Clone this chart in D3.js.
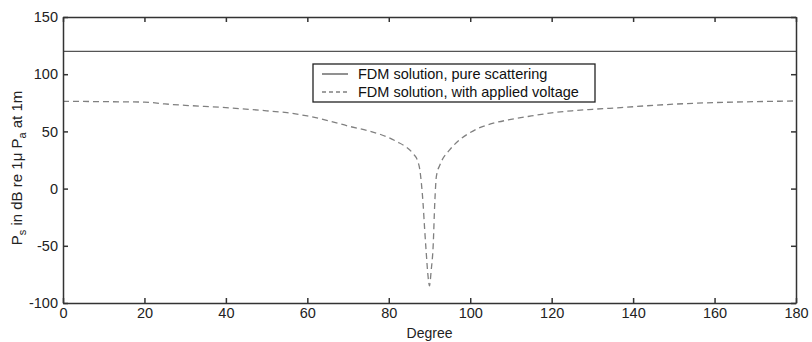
<!DOCTYPE html>
<html><head><meta charset="utf-8">
<script src="https://cdn.jsdelivr.net/npm/d3@7"></script>
<style>
body{margin:0;background:#fff;}
text{font-family:"Liberation Sans",Arial,sans-serif;}
</style></head>
<body><svg id="c" width="812" height="342"></svg>
<script>
const xTicks=[0,20,40,60,80,100,120,140,160,180];
const yTicks=[-100,-50,0,50,100,150];
const pureDeg=[0,180];
const pureVal=[120,120];
const voltDeg=[0,10,20,25,30,40,50,55,60,65,70,75,78,80,82,84,86,87,87.6,88,88.4,88.8,89.2,89.6,90,90.4,90.9,91.3,91.7,92.6,95,97.5,100,102.5,105,110,115,120,125,130,137,145,150,160,170,180];
const voltVal=[76.3,76,75.6,74,72.8,70.8,68,66.4,63.5,59.5,54.7,50.5,47.3,44.5,41,37,30.5,25,17,5,-12,-35,-56,-75,-85,-72,-50,-12,11,21,34,43,49,53.5,56.5,60.5,63.5,66.2,68,69.3,70.8,72.8,73.8,75.2,76,76.6];
const legendLabels=["FDM solution, pure scattering","FDM solution, with applied voltage"];

const svg=d3.select("#c");
const L=63,R=796,T=17,B=303;
const x=d3.scaleLinear().domain([0,180]).range([L,R]);
const y=d3.scaleLinear().domain([-100,150]).range([B,T]);
const axisCol="#333";
const g=svg.append("g");

// data lines
const line=d3.line().x(d=>x(d[0])).y(d=>y(d[1]));
g.append("path").datum(pureDeg.map((d,i)=>[d,pureVal[i]]))
 .attr("d",line).attr("fill","none").attr("stroke","#555").attr("stroke-width",1.2);
g.append("path").datum(voltDeg.map((d,i)=>[d,voltVal[i]]))
 .attr("d",line.curve(d3.curveMonotoneX)).attr("fill","none").attr("stroke","#808080")
 .attr("stroke-width",1.3).attr("stroke-dasharray","6,4");

// axes (inward ticks, box)
const tl=5, fmt=d=>String(d);
const ax=svg.append("g").attr("transform",`translate(0,${B})`).call(d3.axisBottom(x).tickValues(xTicks).tickFormat(fmt).tickSizeInner(-tl).tickSizeOuter(0).tickPadding(5));
const axT=svg.append("g").attr("transform",`translate(0,${T})`).call(d3.axisTop(x).tickValues(xTicks).tickSizeInner(-tl).tickSizeOuter(0).tickFormat(""));
const ay=svg.append("g").attr("transform",`translate(${L},0)`).call(d3.axisLeft(y).tickValues(yTicks).tickFormat(fmt).tickSizeInner(-tl).tickSizeOuter(0).tickPadding(5));
const ayR=svg.append("g").attr("transform",`translate(${R},0)`).call(d3.axisRight(y).tickValues(yTicks).tickSizeInner(-tl).tickSizeOuter(0).tickFormat(""));
[ax,axT,ay,ayR].forEach(a=>{
  a.select(".domain").attr("stroke",axisCol).attr("stroke-width",1.5);
  a.selectAll(".tick line").attr("stroke",axisCol).attr("stroke-width",1.5);
  a.selectAll(".tick text").attr("fill","#222").style("font-size","14.5px").style("font-family","'Liberation Sans',Arial,sans-serif");
});

// axis titles
svg.append("text").attr("x",(L+R)/2).attr("y",338).attr("text-anchor","middle")
 .attr("fill","#222").style("font-size","14px").text("Degree");
const yl=svg.append("text").attr("transform",`translate(22,168) rotate(-90)`)
 .attr("text-anchor","middle").attr("fill","#222").style("font-size","15px");
yl.append("tspan").text("P");
yl.append("tspan").attr("dy",4).style("font-size","11px").text("s");
yl.append("tspan").attr("dy",-4).text(" in dB re 1\u03BC P");
yl.append("tspan").attr("dy",4).style("font-size","11px").text("a");
yl.append("tspan").attr("dy",-4).text(" at 1m");

// legend
const lg=svg.append("g");
lg.append("rect").attr("x",313).attr("y",64).attr("width",282).attr("height",38)
 .attr("fill","#fff").attr("stroke","#222").attr("stroke-width",1.3);
const styles=[{c:"#555",d:null},{c:"#808080",d:"4,3"}];
legendLabels.forEach((t,i)=>{
  const yy=74+i*18;
  lg.append("line").attr("x1",322).attr("x2",348).attr("y1",yy).attr("y2",yy)
    .attr("stroke",styles[i].c).attr("stroke-width",1.3).attr("stroke-dasharray",styles[i].d);
  lg.append("text").attr("x",358).attr("y",yy+5).attr("fill","#111").style("font-size","14.5px").text(t);
});
</script></body></html>
